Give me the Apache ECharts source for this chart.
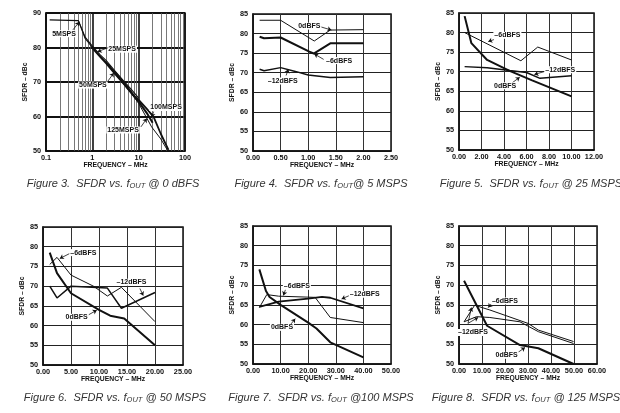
<!DOCTYPE html>
<html><head><meta charset="utf-8">
<script src="https://cdn.jsdelivr.net/npm/echarts@6/dist/echarts.min.js"></script>
<style>html,body{margin:0;padding:0;background:#fff}#c{width:620px;height:413px}</style>
</head><body><div id="c"></div>
<script>
// ---------- DATA (frequency MHz, SFDR dBc) ----------
// Figure 3 (log frequency axis)
const fig3_5MSPS   = [[0.12,88],[0.5,87.8],[0.7,82.6],[1,80],[1.5,77.3],[2,75.6],[2.5,74.3]];
const fig3_25MSPS  = [[0.5,87.8],[0.7,83],[1,80.4],[1.5,77.8],[2,76.2],[3,73.4],[5,70],[7,67.8],[10,65.3]];
const fig3_50MSPS  = [[1,79.9],[1.5,77.2],[2,75.4],[3,72.6],[5,69.2],[7,66.8],[10,64.3],[15,61],[20,58.2]];
const fig3_100MSPS = [[2,75.5],[3,73],[5,69.6],[8,66],[10,64.8],[15,62.2],[21,59.9],[30,55],[44,50.3]];
const fig3_125MSPS = [[2.5,74],[3,72.6],[5,69],[7,66.6],[10,63.8],[19,57],[30,53.5],[42,50.2]];
// Figure 4 (5 MSPS)
const fig4_0dBFS   = [[0.12,83.4],[0.5,83.4],[1.11,78.1],[1.4,80.9],[2.0,81.0]];
const fig4_m6dBFS  = [[0.12,79.2],[0.2,78.8],[0.5,79.0],[1.02,75.4],[1.1,74.9],[1.4,77.5],[2.0,77.5]];
const fig4_m12dBFS = [[0.12,70.9],[0.2,70.5],[0.5,71.3],[0.75,70.4],[1.0,69.4],[1.4,68.8],[2.0,69.0]];
// Figure 5 (25 MSPS)
const fig5_0dBFS   = [[0.5,84.2],[1.1,77.3],[2.5,73],[4.5,70.2],[6.5,67.8],[10,63.7]];
const fig5_m6dBFS  = [[0.5,80],[5.5,72.8],[7,76.3],[10,73]];
const fig5_m12dBFS = [[0.5,71.3],[2.5,71],[4.5,70.3],[6,69.8],[7.2,68.3],[10,69]];
// Figure 6 (50 MSPS)
const fig6_0dBFS   = [[1.2,78.5],[2.5,73.3],[5,68.2],[10,64],[12,62.5],[14.5,61.8],[20,55]];
const fig6_m6dBFS  = [[1.2,75.5],[2.5,77.3],[5,72.8],[9,70],[11.5,67.5],[14,69.7],[20,61]];
const fig6_m12dBFS = [[1.2,70],[2.5,67],[5,70],[11.5,69.5],[14,64.4],[20,68.4]];
// Figure 7 (100 MSPS)
const fig7_0dBFS   = [[2.3,74],[4.7,68.5],[6,67],[10,65],[20,60.5],[23,59],[28,55.5],[40,51.7]];
const fig7_m6dBFS  = [[2.3,64.3],[5,67.6],[9.3,67.2],[22.5,66.9],[28,61.8],[40,60.5]];
const fig7_m12dBFS = [[2.3,64.5],[9.3,65.8],[20,66.6],[25,67],[28,66.8],[40,64.1]];
// Figure 8 (125 MSPS)
const fig8_0dBFS   = [[2.2,71.1],[12.2,59.7],[26.5,54.8],[34.5,54],[49.8,50]];
const fig8_m6dBFS  = [[2.2,60.7],[6.8,64.9],[13.4,63.7],[30,60.3],[34.5,58.6],[49.8,55.7]];
const fig8_m12dBFS = [[2.2,60.7],[7.6,62],[13.4,61.8],[26.5,60.7],[34.5,58.2],[49.8,55.2]];

// ---------- TICKS ----------
const fig3XTicks = [0.1,1,10,100];
const fig3XMinor = [0.2,0.3,0.4,0.5,0.6,0.7,0.8,0.9,2,3,4,5,6,7,8,9,20,30,40,50,60,70,80,90];
const fig3YTicks = [50,60,70,80,90];
const sfdrYTicks = [50,55,60,65,70,75,80,85];
const fig4XTicks = [0,0.5,1,1.5,2,2.5];
const fig5XTicks = [0,2,4,6,8,10,12];
const fig6XTicks = [0,5,10,15,20,25];
const fig7XTicks = [0,10,20,30,40,50];
const fig8XTicks = [0,10,20,30,40,50,60];

const figTitles = [
  ['Figure 3.  SFDR vs. f','OUT',' @ 0 dBFS'],
  ['Figure 4.  SFDR vs. f','OUT','@ 5 MSPS'],
  ['Figure 5.  SFDR vs. f','OUT',' @ 25 MSPS'],
  ['Figure 6.  SFDR vs. f','OUT',' @ 50 MSPS'],
  ['Figure 7.  SFDR vs. f','OUT',' @100 MSPS'],
  ['Figure 8.  SFDR vs. f','OUT',' @ 125 MSPS']
];

// ---------- ANNOTATIONS (data coordinates) ----------
const notes = [
  [ {t:'5MSPS', at:[0.245,84.0], l:[[0.38,85.1],[0.52,87.4]]},
    {t:'25MSPS', at:[4.4,79.5], l:[[2.15,79.9],[1.3,78.8]]},
    {t:'50MSPS', at:[1.03,69.1], l:[[2.05,69.8],[2.9,72.6]]},
    {t:'100MSPS', at:[39,62.6], l:[[21,61.4],[19,59.8]]},
    {t:'125MSPS', at:[4.6,56.1], l:[[11.2,57.0],[15,59.4]]} ],
  [ {t:'0dBFS', at:[1.02,81.9], l:[[1.22,81.75],[1.42,80.9]]},
    {t:'–6dBFS', at:[1.56,73.1], l:[[1.28,73.4],[1.11,74.8]]},
    {t:'–12dBFS', at:[0.54,67.9], l:[[0.6,69.3],[0.64,70.9]]} ],
  [ {t:'–6dBFS', at:[4.3,79.3], l:[[3.1,78.2],[2.6,77.7]]},
    {t:'–12dBFS', at:[9.0,70.5], l:[[7.9,70.3],[6.7,69.3]]},
    {t:'0dBFS', at:[4.1,66.4], l:[[4.7,67.1],[5.4,68.6]]} ],
  [ {t:'–6dBFS', at:[7.2,78.5], l:[[4.8,78.3],[3.0,77.0]]},
    {t:'–12dBFS', at:[15.8,71.0], l:[[17.3,69.4],[17.9,67.6]]},
    {t:'0dBFS', at:[6.0,62.1], l:[[8.1,62.7],[9.6,63.9]]} ],
  [ {t:'–6dBFS', at:[15.9,69.7], l:[[12.0,69.3],[11.0,67.4]]},
    {t:'–12dBFS', at:[40.5,67.7], l:[[35.7,67.6],[32.1,66.5]]},
    {t:'0dBFS', at:[10.5,59.3], l:[[13.5,59.9],[15.3,61.5]]} ],
  [ {t:'–6dBFS', at:[20.0,66.0], l:[[14.8,65.8],[12.7,64.3]]},
    {t:'–12dBFS', at:[6.1,58.0], l:[[3.9,60.3],[5.4,64.3]], l2:[[3.9,60.3],[8.3,61.8]]},
    {t:'0dBFS', at:[20.7,52.2], l:[[25.8,53.0],[28.7,54.2]]} ]
];

// ---------- LAYOUT ----------
const FONT = 'Liberation Sans';
const ink = '#111';
const grids = [
  {left:46, top:13, width:139, height:138},
  {left:253, top:14, width:138, height:137},
  {left:459, top:13, width:135, height:137},
  {left:43, top:227, width:140, height:138},
  {left:253, top:226, width:138, height:138},
  {left:459, top:226, width:138, height:138}
];
const titlePos = [[108,172],[316,172],[526,172],[110,386],[316,386],[521,386]];

const lab = {fontFamily:FONT, fontWeight:'bold', fontSize:7.3, color:ink};
const nameStyle = {fontFamily:FONT, fontWeight:'bold', fontSize:6.8, color:ink};

function xValAxis(i, ticks) {
  return {gridIndex:i, type:'value', min:ticks[0], max:ticks[ticks.length-1], interval:ticks[1]-ticks[0],
    axisLine:{show:true, onZero:false, lineStyle:{color:ink, width:1.5}}, axisTick:{show:false},
    splitLine:{show:true, lineStyle:{color:'#333', width:1}},
    axisLabel:{...lab, margin:3, formatter:v=>v.toFixed(2), showMaxLabel:true, showMinLabel:true},
    name:'FREQUENCY – MHz', nameLocation:'middle', nameGap:11, nameTextStyle:nameStyle};
}
function yValAxis(i, ticks) {
  return {gridIndex:i, type:'value', min:ticks[0], max:ticks[ticks.length-1], interval:ticks[1]-ticks[0],
    axisLine:{show:true, onZero:false, lineStyle:{color:ink, width:1.5}}, axisTick:{show:false},
    splitLine:{show:true, lineStyle:{color:'#222', width:1.2}},
    axisLabel:{...lab, margin:5},
    name:'SFDR – dBc', nameLocation:'middle', nameGap:12, nameRotate:90, nameTextStyle:nameStyle};
}

const xAxes = [
  {gridIndex:0, type:'log', logBase:10, min:fig3XTicks[0], max:fig3XTicks[fig3XTicks.length-1],
    axisLine:{show:true, onZero:false, lineStyle:{color:ink, width:1.5}}, axisTick:{show:false},
    splitLine:{show:true, lineStyle:{color:ink, width:1.6}},
    axisLabel:{...lab, margin:3, formatter:v=>String(v)},
    name:'FREQUENCY – MHz', nameLocation:'middle', nameGap:11, nameTextStyle:nameStyle},
  xValAxis(1, fig4XTicks), xValAxis(2, fig5XTicks), xValAxis(3, fig6XTicks),
  xValAxis(4, fig7XTicks), xValAxis(5, fig8XTicks)
];
const yAxes = [yValAxis(0, fig3YTicks)];
yAxes[0].splitLine.lineStyle = {color:ink, width:1.8};
for (let i=1;i<6;i++) yAxes.push(yValAxis(i, sfdrYTicks));

function line(i, data, w) {
  return {type:'line', xAxisIndex:i, yAxisIndex:i, data, symbol:'none', showSymbol:false,
    lineStyle:{color:ink, width:w}, z:3, silent:true, animation:false};
}
const series = [
  // minor log grid lines for Figure 3
  {type:'line', xAxisIndex:0, yAxisIndex:0, data:[], silent:true, animation:false,
    markLine:{silent:true, z:1, symbol:'none', animation:false, label:{show:false},
      lineStyle:{color:'#555', width:0.8, type:'solid'},
      data: fig3XMinor.map(v=>({xAxis:v}))}},
  line(0, fig3_5MSPS, 1.1), line(0, fig3_25MSPS, 1.1), line(0, fig3_50MSPS, 2),
  line(0, fig3_100MSPS, 1.8), line(0, fig3_125MSPS, 1),
  line(1, fig4_0dBFS, 1), line(1, fig4_m6dBFS, 2), line(1, fig4_m12dBFS, 1.5),
  line(2, fig5_0dBFS, 2), line(2, fig5_m6dBFS, 1), line(2, fig5_m12dBFS, 1.5),
  line(3, fig6_0dBFS, 2), line(3, fig6_m6dBFS, 1), line(3, fig6_m12dBFS, 1.5),
  line(4, fig7_0dBFS, 2), line(4, fig7_m6dBFS, 1), line(4, fig7_m12dBFS, 1.8),
  line(5, fig8_0dBFS, 2), line(5, fig8_m6dBFS, 1), line(5, fig8_m12dBFS, 1)
];
// annotation series per panel
notes.forEach((arr, i) => {
  const lines = [];
  arr.forEach(n => {
    [n.l, n.l2].forEach(seg => { if (seg) lines.push([{coord:seg[0]},{coord:seg[1]}]); });
  });
  series.push({type:'line', xAxisIndex:i, yAxisIndex:i, data:[], silent:true, animation:false,
    markLine:{silent:true, z:6, animation:false, symbol:['none','arrow'], symbolSize:4,
      label:{show:false}, lineStyle:{color:ink, width:0.8, type:'solid'}, data:lines},
    markPoint:{silent:true, z:7, animation:false, symbol:'circle', symbolSize:0,
      data: arr.map(n => ({coord:n.at, value:n.t})),
      label:{show:true, position:'inside', formatter:p=>p.value, ...lab, fontSize:7,
        backgroundColor:'#fff', padding:[0,1]}}
  });
});

const titles = figTitles.map((t, i) => ({
  text: t[0] + '{s|' + t[1] + '}' + t[2], left: titlePos[i][0], top: titlePos[i][1], textAlign:'center',
  textStyle:{fontFamily:FONT, fontStyle:'italic', fontWeight:'normal', fontSize:11, color:'#333',
    rich:{s:{fontFamily:FONT, fontStyle:'italic', fontSize:7.5, color:'#333', padding:[5,0,0,0]}}}
}));

const chart = echarts.init(document.getElementById('c'), null, {renderer:'canvas'});
chart.setOption({
  animation:false,
  backgroundColor:'#fff',
  title: titles,
  grid: grids.map(g => ({...g, show:true, borderColor:ink, borderWidth:1.5, backgroundColor:'transparent'})),
  xAxis: xAxes,
  yAxis: yAxes,
  series
});
</script></body></html>
